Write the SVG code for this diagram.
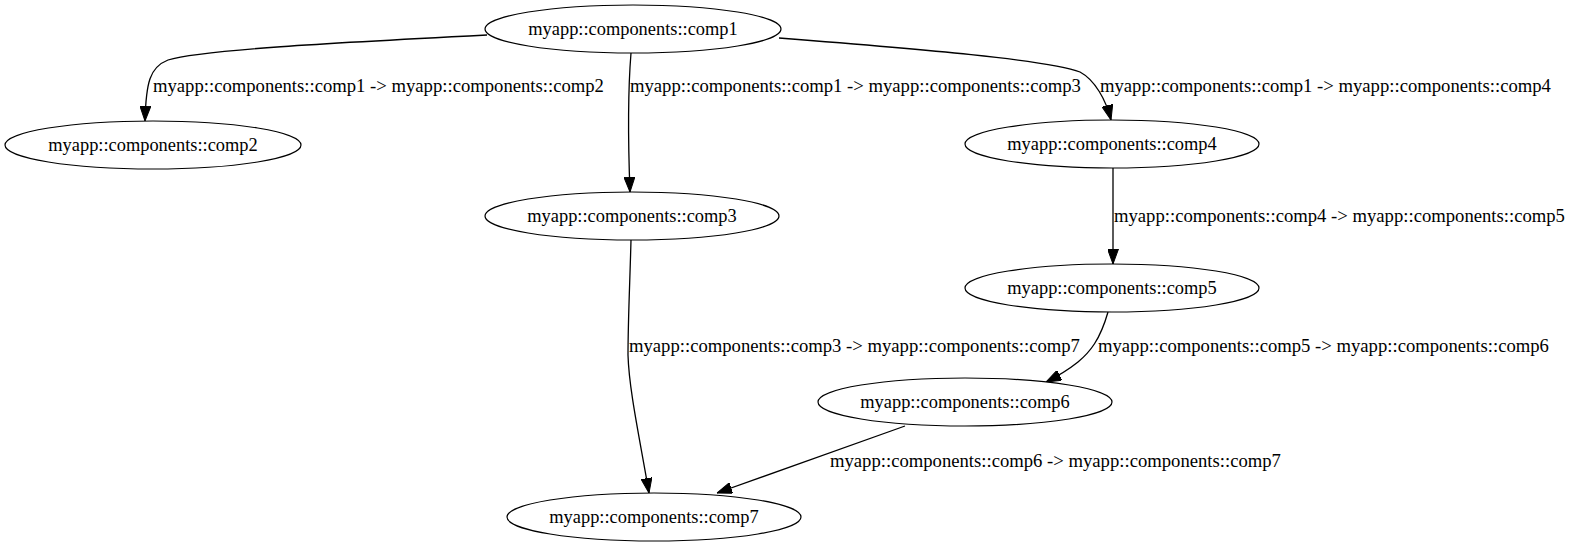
<svg xmlns="http://www.w3.org/2000/svg" width="1572" height="547" viewBox="0 0 1572 547">
<style>
.node ellipse{fill:#fff;stroke:#000;stroke-width:1.2}
.node text{font-family:"Liberation Serif","Times New Roman",serif;font-size:18.4px;text-anchor:middle;fill:#000}
.edge path{fill:none;stroke:#000;stroke-width:1.3}
.lbl{font-family:"Liberation Serif","Times New Roman",serif;font-size:18.67px;fill:#000}
</style>
<defs>
<marker id="arr" markerUnits="userSpaceOnUse" markerWidth="15" markerHeight="11" refX="15" refY="5.5" orient="auto" viewBox="0 0 15 11">
<path d="M0,0 L15,5.5 L0,11 z" fill="#000" stroke="#000" stroke-width="1"/>
</marker>
</defs>
<rect width="1572" height="547" fill="#fff"/>
<g id="edges">
<g class="edge" id="e1_2"><path d="M487,35 C330,43 200,50 168,60 C150,67 146,82 145,121" marker-end="url(#arr)"/><text class="lbl" x="153" y="92">myapp::components::comp1 -&gt; myapp::components::comp2</text></g>
<g class="edge" id="e1_3"><path d="M631,53 C628,90 628,140 630,192" marker-end="url(#arr)"/><text class="lbl" x="630" y="92">myapp::components::comp1 -&gt; myapp::components::comp3</text></g>
<g class="edge" id="e1_4"><path d="M779,38 C920,49 1050,60 1080,72 C1095,80 1106,100 1111,120" marker-end="url(#arr)"/><text class="lbl" x="1100" y="92">myapp::components::comp1 -&gt; myapp::components::comp4</text></g>
<g class="edge" id="e4_5"><path d="M1113,168 L1113,264" marker-end="url(#arr)"/><text class="lbl" x="1114" y="222">myapp::components::comp4 -&gt; myapp::components::comp5</text></g>
<g class="edge" id="e5_6"><path d="M1108,312 C1100,340 1090,352 1078,362 C1068,370 1056,377 1046,382" marker-end="url(#arr)"/><text class="lbl" x="1098" y="352">myapp::components::comp5 -&gt; myapp::components::comp6</text></g>
<g class="edge" id="e3_7"><path d="M631,240 C630,280 628,320 628,355 C629,390 640,440 649,493" marker-end="url(#arr)"/><text class="lbl" x="629" y="352">myapp::components::comp3 -&gt; myapp::components::comp7</text></g>
<g class="edge" id="e6_7"><path d="M905,426 L717,493" marker-end="url(#arr)"/><text class="lbl" x="830" y="467">myapp::components::comp6 -&gt; myapp::components::comp7</text></g>
</g>
<g class="node" id="comp1"><ellipse cx="633" cy="29" rx="148" ry="24"/><text x="633" y="35">myapp::components::comp1</text></g>
<g class="node" id="comp2"><ellipse cx="153" cy="145" rx="148" ry="24"/><text x="153" y="151">myapp::components::comp2</text></g>
<g class="node" id="comp3"><ellipse cx="632" cy="216" rx="147" ry="24"/><text x="632" y="222">myapp::components::comp3</text></g>
<g class="node" id="comp4"><ellipse cx="1112" cy="144" rx="147" ry="24"/><text x="1112" y="150">myapp::components::comp4</text></g>
<g class="node" id="comp5"><ellipse cx="1112" cy="288" rx="147" ry="24"/><text x="1112" y="294">myapp::components::comp5</text></g>
<g class="node" id="comp6"><ellipse cx="965" cy="402" rx="147" ry="24"/><text x="965" y="408">myapp::components::comp6</text></g>
<g class="node" id="comp7"><ellipse cx="654" cy="517" rx="147" ry="24"/><text x="654" y="523">myapp::components::comp7</text></g>
</svg>
